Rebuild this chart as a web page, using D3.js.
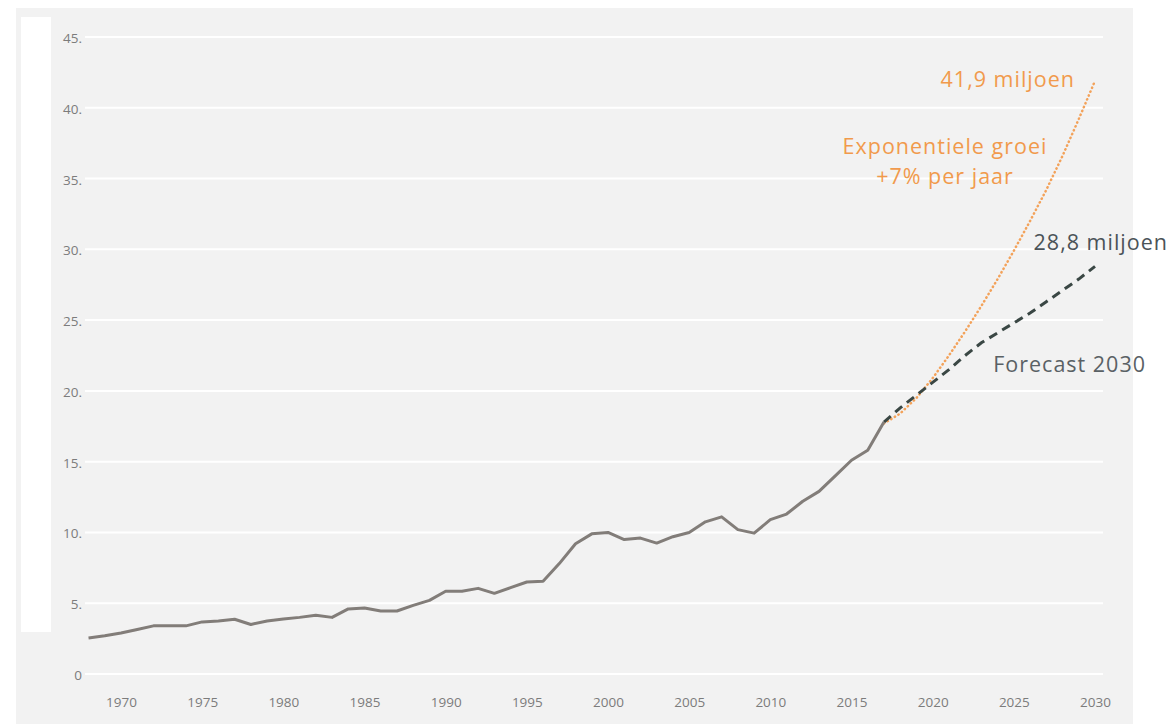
<!DOCTYPE html>
<html>
<head>
<meta charset="utf-8">
<script src="https://cdn.jsdelivr.net/npm/d3@7"></script>
<style>
  body { margin: 0; background: #fff; }
  text { font-family: "Open Sans", Lato, sans-serif; }
</style>
</head>
<body>
<script>
// historical series 1968-2017 (miljoen)
var years = [1968,1969,1970,1971,1972,1973,1974,1975,1976,1977,1978,1979,1980,1981,1982,1983,1984,1985,1986,1987,
  1988,1989,1990,1991,1992,1993,1994,1995,1996,1997,1998,1999,2000,2001,2002,2003,2004,2005,2006,2007,
  2008,2009,2010,2011,2012,2013,2014,2015,2016,2017];
var values = [2.55,2.7,2.9,3.15,3.4,3.4,3.4,3.68,3.75,3.87,3.5,3.75,3.88,4.0,4.15,4.0,4.6,4.66,4.45,4.45,
  4.85,5.2,5.85,5.85,6.05,5.7,6.1,6.5,6.55,7.8,9.2,9.9,10.0,9.5,9.6,9.25,9.7,10.0,10.75,11.1,
  10.2,9.95,10.9,11.3,12.2,12.9,14.0,15.1,15.8,17.8];

// forecast 2017-2030
var fcYears = [2017,2018,2019,2020,2021,2022,2023,2024,2025,2026,2027,2028,2029,2030];
var forecast = [17.8,18.8,19.7,20.6,21.5,22.5,23.4,24.1,24.8,25.5,26.3,27.1,27.9,28.8];
// exponential +7% per jaar
var expo = [17.7,18.4,19.5,20.9,22.5,24.2,26.0,27.9,29.9,32.0,34.2,36.6,39.2,41.9];

var xTicks = [1970,1975,1980,1985,1990,1995,2000,2005,2010,2015,2020,2025,2030];
var yTicks = [0,5,10,15,20,25,30,35,40,45];

var W = 1173, H = 724;
var svg = d3.select("body").append("svg").attr("width", W).attr("height", H);

// panel background + white strip on the left
svg.append("rect").attr("x", 16).attr("y", 8).attr("width", 1117).attr("height", H - 8).attr("fill", "#f2f2f2");
svg.append("rect").attr("x", 21).attr("y", 17).attr("width", 30).attr("height", 615).attr("fill", "#fff");

var x = d3.scaleLinear().domain([1970, 2030]).range([121, 1095]);
var y = d3.scaleLinear().domain([0, 45]).range([674, 37]);

// gridlines
svg.append("g").selectAll("line").data(yTicks).enter().append("line")
  .attr("x1", 85).attr("x2", 1103)
  .attr("y1", function (d) { return y(d); }).attr("y2", function (d) { return y(d); })
  .attr("stroke", "#fff").attr("stroke-width", 2);

// y labels (with the trailing dot as in the original)
svg.append("g").selectAll("text").data(yTicks).enter().append("text")
  .attr("x", 82).attr("y", function (d) { return y(d) + 6; })
  .attr("text-anchor", "end")
  .attr("font-size", 13.5).attr("fill", "#7c7c7c")
  .text(function (d) { return d == 0 ? "0" : d + "."; });

// x axis labels
var xAxis = d3.axisBottom(x).tickValues(xTicks).tickSize(0).tickPadding(0).tickFormat(d3.format("d"));
var gx = svg.append("g").attr("transform", "translate(0,697)").call(xAxis);
gx.select(".domain").remove();
gx.selectAll("text").attr("font-size", 13.5).attr("fill", "#7c7c7c")
  .style("font-family", "'Open Sans', Lato, sans-serif").attr("dy", "0.71em");

var line = d3.line()
  .x(function (d) { return x(d[0]); })
  .y(function (d) { return y(d[1]); });

function pairs(xs, vs) {
  return xs.map(function (v, i) { return [v, vs[i]]; });
}

// orange dotted exponential
svg.append("path").datum(pairs(fcYears, expo))
  .attr("d", line).attr("fill", "none")
  .attr("stroke", "#f3a25a").attr("stroke-width", 2.5)
  .attr("stroke-dasharray", "0.4,3.8").attr("stroke-linecap", "round");

// dashed forecast
svg.append("path").datum(pairs(fcYears, forecast))
  .attr("d", line).attr("fill", "none")
  .attr("stroke", "#3a4744").attr("stroke-width", 3)
  .attr("stroke-dasharray", "9,6");

// historical line
svg.append("path").datum(pairs(years, values))
  .attr("d", line).attr("fill", "none")
  .attr("stroke", "#827d79").attr("stroke-width", 3)
  .attr("stroke-linejoin", "round");

// annotations
var orange = "#f19a4c";
function note(tx, ty, anchor, color, str) {
  svg.append("text").attr("x", tx).attr("y", ty).attr("text-anchor", anchor)
    .attr("font-size", 21.5).attr("letter-spacing", "1px").attr("fill", color).text(str);
}
note(1075, 87, "end", orange, "41,9 miljoen");
note(945, 154, "middle", orange, "Exponentiele groei");
note(945, 184, "middle", orange, "+7% per jaar");
note(1168, 250, "end", "#4b5358", "28,8 miljoen");
note(1146, 372, "end", "#5a6165", "Forecast 2030");
</script>
</body>
</html>
